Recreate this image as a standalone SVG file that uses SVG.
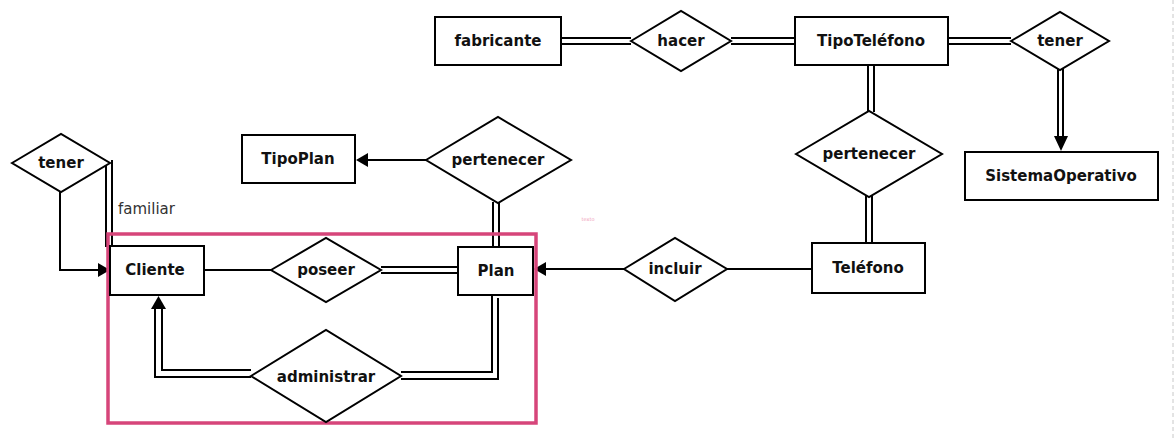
<svg xmlns="http://www.w3.org/2000/svg" width="1176" height="440" viewBox="0 0 1176 440">
<style>
.ent{fill:#fff;stroke:#000;stroke-width:2}
.rel{fill:#fff;stroke:#000;stroke-width:2}
.lbl{font-family:"DejaVu Sans",Verdana,sans-serif;font-weight:bold;font-size:15px;fill:#111;text-anchor:middle;dominant-baseline:central}
.ln{fill:none;stroke:#000;stroke-width:2}
.arr{fill:#000}
</style>
<rect width="1176" height="440" fill="#fff"/>
<line x1="1173" y1="0" x2="1173" y2="440" stroke="#c8c8c8" stroke-width="1" stroke-dasharray="4,3"/>
<g id="connectors">
  <!-- fabricante - hacer -->
  <path class="ln" d="M561 38H631M561 44H631"/>
  <!-- hacer - TipoTelefono -->
  <path class="ln" d="M731 38H795M731 44H795"/>
  <!-- TipoTelefono - tener -->
  <path class="ln" d="M948 38H1011M948 44H1011"/>
  <!-- tener - SistemaOperativo -->
  <path class="ln" d="M1058 69V137M1063 69V137"/>
  <polygon class="arr" points="1054,136 1068,136 1061,151"/>
  <!-- TipoTelefono - pertenecer -->
  <path class="ln" d="M868 65V112M874 65V112"/>
  <!-- pertenecer - Telefono -->
  <path class="ln" d="M866 196V243M872 196V243"/>
  <!-- Telefono - incluir -->
  <path class="ln" d="M812 269H727"/>
  <!-- incluir - Plan -->
  <path class="ln" d="M624 269H546"/>
  <polygon class="arr" points="546,262 546,276 534,269"/>
  <!-- pertenecer - TipoPlan -->
  <path class="ln" d="M426 160H368"/>
  <polygon class="arr" points="368,153 368,167 356,160"/>
  <!-- pertenecer - Plan -->
  <path class="ln" d="M493 202V247M499 202V247"/>
  <!-- poseer - Plan -->
  <path class="ln" d="M381 267H458M381 273H458"/>
  <!-- Cliente - poseer -->
  <path class="ln" d="M204 270H271"/>
  <!-- tener - Cliente -->
  <path class="ln" d="M60 191V270H99"/>
  <polygon class="arr" points="98,263 98,277 110,270"/>
  <path class="ln" d="M106 164V247M112 160V245"/>
  <!-- administrar - Cliente -->
  <path class="ln" d="M251 377H155V308M251 370H162V308"/>
  <polygon class="arr" points="151,309 166,309 158.5,296"/>
  <!-- administrar - Plan -->
  <path class="ln" d="M401 379H498V298M401 372H492V295"/>
</g>
<rect x="108" y="234" width="428" height="189" fill="none" stroke="#d6457a" stroke-width="3.5"/>
<g id="fabricante"><rect class="ent" x="435" y="17" width="126" height="48"/><text class="lbl" x="498" y="41">fabricante</text></g>
<g id="hacer"><polygon class="rel" points="631,41 681,11 731,41 681,71"/><text class="lbl" x="681" y="41">hacer</text></g>
<g id="TipoTelefono"><rect class="ent" x="795" y="17" width="153" height="48"/><text class="lbl" x="871" y="41">TipoTeléfono</text></g>
<g id="tenerSO"><polygon class="rel" points="1011,41 1060,12 1109,41 1060,70"/><text class="lbl" x="1060" y="41">tener</text></g>
<g id="SistemaOperativo"><rect class="ent" x="965" y="152" width="193" height="48"/><text class="lbl" x="1061" y="176">SistemaOperativo</text></g>
<g id="pertenecerTel"><polygon class="rel" points="796,154 869,111 942,154 869,197"/><text class="lbl" x="869" y="154">pertenecer</text></g>
<g id="Telefono"><rect class="ent" x="812" y="243" width="113" height="50"/><text class="lbl" x="868" y="268">Teléfono</text></g>
<g id="incluir"><polygon class="rel" points="624,269 675,238 727,269 675,301"/><text class="lbl" x="675" y="269">incluir</text></g>
<g id="Plan"><rect class="ent" x="458" y="247" width="75" height="48"/><text class="lbl" x="496" y="271">Plan</text></g>
<g id="TipoPlan"><rect class="ent" x="242" y="135" width="113" height="48"/><text class="lbl" x="298" y="159">TipoPlan</text></g>
<g id="pertenecerPlan"><polygon class="rel" points="426,160 498,117 571,160 498,203"/><text class="lbl" x="498" y="160">pertenecer</text></g>
<g id="poseer"><polygon class="rel" points="271,270 326,238 381,270 326,302"/><text class="lbl" x="326" y="270">poseer</text></g>
<g id="Cliente"><rect class="ent" x="110" y="246" width="94" height="49"/><text class="lbl" x="155" y="270">Cliente</text></g>
<g id="tenerFam"><polygon class="rel" points="12,163 61,134 110,163 61,192"/><text class="lbl" x="61" y="163">tener</text></g>
<g id="administrar"><polygon class="rel" points="251,376 326,330 401,376 326,422"/><text class="lbl" x="326" y="377">administrar</text></g>
<text x="118" y="209" font-family="DejaVu Sans,Verdana,sans-serif" font-size="15" fill="#333" dominant-baseline="central">familiar</text>
<text x="588" y="219" font-family="DejaVu Sans,sans-serif" font-size="5" fill="#f0a0b8" text-anchor="middle" dominant-baseline="central">texto</text>
</svg>
